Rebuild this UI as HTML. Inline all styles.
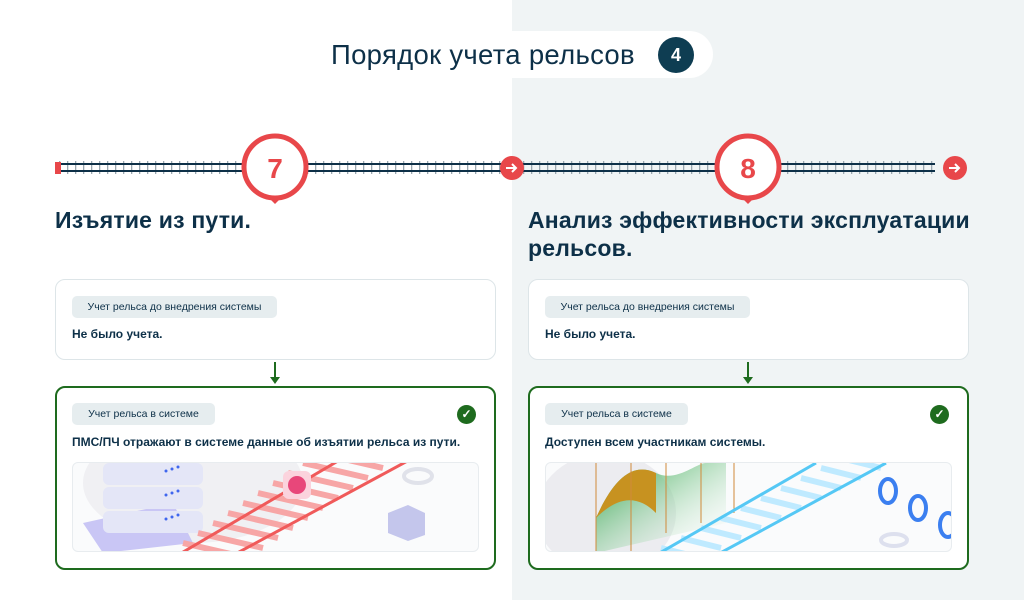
<!DOCTYPE html>
<html><head><meta charset="utf-8"><style>
*{margin:0;padding:0;box-sizing:border-box}
body{width:1024px;height:600px;position:relative;overflow:hidden;background:#fff;font-family:"Liberation Sans",sans-serif;color:#0d3048}
.abs{position:absolute}
.h{font-weight:bold;font-size:23px;line-height:28px;color:#0d3048;letter-spacing:0.2px}
.card{position:absolute;background:#fff;border:1.5px solid #dde5e8;border-radius:10px}
.card.g{border:2px solid #1e6b1e}
.tag{position:absolute;background:#e6edef;border-radius:5px;font-size:10.5px;line-height:22px;text-align:center;color:#0d3048}
.t{position:absolute;font-size:12px;font-weight:bold;color:#0d3048}
.img{position:absolute;border:1px solid #e8ecef;border-radius:6px;overflow:hidden;background:#fafbfc}
.chk{position:absolute;width:19px;height:19px;border-radius:50%;background:#1e6b1e;color:#fff;font-size:12px;line-height:19px;text-align:center;font-weight:bold}
</style></head><body>
<div class="abs" style="left:512px;top:0;width:512px;height:600px;background:#f0f4f5"></div>
<div class="abs" style="left:318px;top:31px;width:395px;height:47px;border-radius:24px;background:#fff"></div>
<div class="abs" style="left:331px;top:38px;font-size:27.5px;line-height:34px;color:#0d3048;letter-spacing:0.3px">Порядок учета рельсов</div>
<div class="abs" style="left:658px;top:37px;width:36px;height:36px;border-radius:50%;background:#0e3d52;color:#fff;font-weight:bold;font-size:18px;line-height:36px;text-align:center">4</div>

<svg class="abs" style="left:0;top:0" width="1024" height="210">
<defs><pattern id="ties" width="8" height="14" patternUnits="userSpaceOnUse"><rect x="3" y="0" width="1.3" height="14" fill="#9aa7b0"/></pattern></defs>
<rect x="55" y="161" width="880" height="13" fill="url(#ties)"/>
<line x1="55" y1="164" x2="935" y2="164" stroke="#0d3048" stroke-width="2"/>
<line x1="55" y1="171" x2="935" y2="171" stroke="#0d3048" stroke-width="2"/>
<rect x="55" y="162" width="6" height="12" fill="#e8474a"/>
<g>
<path d="M268 197 L275 204 L282 197Z" fill="#e8474a"/>
<circle cx="275" cy="167" r="31" fill="#fff" stroke="#e8474a" stroke-width="5"/>
<text x="275" y="178" text-anchor="middle" font-family="Liberation Sans" font-weight="bold" font-size="28" fill="#e8474a">7</text>
</g>
<g>
<path d="M741 197 L748 204 L755 197Z" fill="#e8474a"/>
<circle cx="748" cy="167" r="31" fill="#fff" stroke="#e8474a" stroke-width="5"/>
<text x="748" y="178" text-anchor="middle" font-family="Liberation Sans" font-weight="bold" font-size="28" fill="#e8474a">8</text>
</g>
<circle cx="512" cy="168" r="12" fill="#e8474a"/>
<path d="M506 168 H516 M512 164 L516 168 L512 172" stroke="#fff" stroke-width="2" fill="none"/>
<circle cx="955" cy="168" r="12" fill="#e8474a"/>
<path d="M949 168 H959 M955 164 L959 168 L955 172" stroke="#fff" stroke-width="2" fill="none"/>
</svg>

<div class="abs h" style="left:55px;top:206px">Изъятие из пути.</div>
<div class="abs h" style="left:528px;top:206px">Анализ эффективности эксплуатации<br>рельсов.</div>

<!-- left -->
<div class="card" style="left:55px;top:279px;width:441px;height:81px"></div>
<div class="tag" style="left:72px;top:296px;width:205px">Учет рельса до внедрения системы</div>
<div class="t" style="left:72px;top:327px">Не было учета.</div>
<svg class="abs" style="left:268px;top:360px" width="14" height="26"><line x1="7" y1="2" x2="7" y2="20" stroke="#1e6b1e" stroke-width="2"/><path d="M2 17 L7 24 L12 17Z" fill="#1e6b1e"/></svg>
<div class="card g" style="left:55px;top:386px;width:441px;height:184px"></div>
<div class="tag" style="left:72px;top:403px;width:143px">Учет рельса в системе</div>
<div class="chk" style="left:457px;top:405px">✓</div>
<div class="t" style="left:72px;top:435px">ПМС/ПЧ отражают в системе данные об изъятии рельса из пути.</div>
<div class="img" style="left:72px;top:462px;width:407px;height:90px">
<svg width="407" height="90">
<ellipse cx="120" cy="20" rx="110" ry="60" fill="#f0f0f3"/>
<path d="M10 60 L100 40 L120 80 L30 90Z" fill="#c9c6f5"/>
<rect x="30" y="0" width="100" height="22" rx="6" fill="#e4e6f7"/>
<rect x="30" y="24" width="100" height="22" rx="6" fill="#e4e6f7"/>
<rect x="30" y="48" width="100" height="22" rx="6" fill="#e4e6f7"/>
<g fill="#3f66ee"><circle cx="93" cy="8" r="1.5"/><circle cx="99" cy="6" r="1.5"/><circle cx="105" cy="4" r="1.5"/><circle cx="93" cy="32" r="1.5"/><circle cx="99" cy="30" r="1.5"/><circle cx="105" cy="28" r="1.5"/><circle cx="93" cy="56" r="1.5"/><circle cx="99" cy="54" r="1.5"/><circle cx="105" cy="52" r="1.5"/></g>
<g stroke="#f7a6a6" stroke-width="6">
<line x1="110" y1="80" x2="175" y2="95"/><line x1="125" y1="70" x2="190" y2="85"/><line x1="140" y1="60" x2="205" y2="75"/><line x1="155" y1="50" x2="220" y2="65"/><line x1="170" y1="40" x2="235" y2="55"/><line x1="185" y1="30" x2="250" y2="45"/><line x1="200" y1="20" x2="265" y2="35"/><line x1="215" y1="10" x2="280" y2="25"/><line x1="230" y1="0" x2="295" y2="15"/><line x1="245" y1="-10" x2="310" y2="5"/></g>
<line x1="100" y1="95" x2="270" y2="-5" stroke="#f05a5a" stroke-width="3"/>
<line x1="155" y1="95" x2="340" y2="-5" stroke="#f05a5a" stroke-width="3"/>
<rect x="210" y="8" width="28" height="28" rx="6" fill="#fbd3dd"/>
<circle cx="224" cy="22" r="9" fill="#e8477a"/>
<ellipse cx="345" cy="13" rx="14" ry="7" fill="none" stroke="#e0e2ea" stroke-width="4"/>
<path d="M315 50 L335 42 L352 50 L352 72 L335 78 L315 70Z" fill="#c4c6ec"/>
</svg></div>

<!-- right -->
<div class="card" style="left:528px;top:279px;width:441px;height:81px"></div>
<div class="tag" style="left:545px;top:296px;width:205px">Учет рельса до внедрения системы</div>
<div class="t" style="left:545px;top:327px">Не было учета.</div>
<svg class="abs" style="left:741px;top:360px" width="14" height="26"><line x1="7" y1="2" x2="7" y2="20" stroke="#1e6b1e" stroke-width="2"/><path d="M2 17 L7 24 L12 17Z" fill="#1e6b1e"/></svg>
<div class="card g" style="left:528px;top:386px;width:441px;height:184px"></div>
<div class="tag" style="left:545px;top:403px;width:143px">Учет рельса в системе</div>
<div class="chk" style="left:930px;top:405px">✓</div>
<div class="t" style="left:545px;top:435px">Доступен всем участникам системы.</div>
<div class="img" style="left:545px;top:462px;width:407px;height:90px">
<svg width="407" height="90">
<defs><linearGradient id="gg" x1="0" y1="0" x2="1" y2="1"><stop offset="0" stop-color="#1e9e3a"/><stop offset="1" stop-color="#fff" stop-opacity="0"/></linearGradient></defs>
<ellipse cx="60" cy="50" rx="70" ry="60" fill="#ececf0"/>
<path d="M50 55 C70 10 90 0 110 10 C130 20 150 0 160 0 L180 0 L180 60 L50 90Z" fill="url(#gg)"/>
<path d="M50 55 C70 10 90 0 110 10 L110 50 C90 30 70 35 50 55Z" fill="#c79220"/>
<g stroke="#d08a3a" stroke-width="1"><line x1="50" y1="0" x2="50" y2="90"/><line x1="85" y1="0" x2="85" y2="90"/><line x1="120" y1="0" x2="120" y2="70"/><line x1="155" y1="0" x2="155" y2="60"/><line x1="188" y1="0" x2="188" y2="50"/></g>
<g stroke="#bfeaff" stroke-width="6">
<line x1="115" y1="85" x2="155" y2="95"/><line x1="135" y1="75" x2="175" y2="85"/><line x1="155" y1="65" x2="195" y2="75"/><line x1="175" y1="55" x2="215" y2="65"/><line x1="195" y1="45" x2="235" y2="55"/><line x1="215" y1="35" x2="255" y2="45"/><line x1="235" y1="25" x2="275" y2="35"/><line x1="255" y1="15" x2="295" y2="25"/><line x1="275" y1="5" x2="315" y2="15"/><line x1="295" y1="-5" x2="335" y2="5"/></g>
<line x1="105" y1="95" x2="270" y2="0" stroke="#55c8f5" stroke-width="3"/>
<line x1="165" y1="95" x2="340" y2="0" stroke="#55c8f5" stroke-width="3"/>
<ellipse cx="342" cy="28" rx="8" ry="12" fill="none" stroke="#3b7ff0" stroke-width="4"/>
<ellipse cx="372" cy="45" rx="8" ry="12" fill="none" stroke="#3b7ff0" stroke-width="4"/>
<ellipse cx="402" cy="62" rx="8" ry="12" fill="none" stroke="#3b7ff0" stroke-width="4"/>
<ellipse cx="348" cy="77" rx="13" ry="6" fill="none" stroke="#dde0ee" stroke-width="4"/>
</svg></div>
</body></html>
